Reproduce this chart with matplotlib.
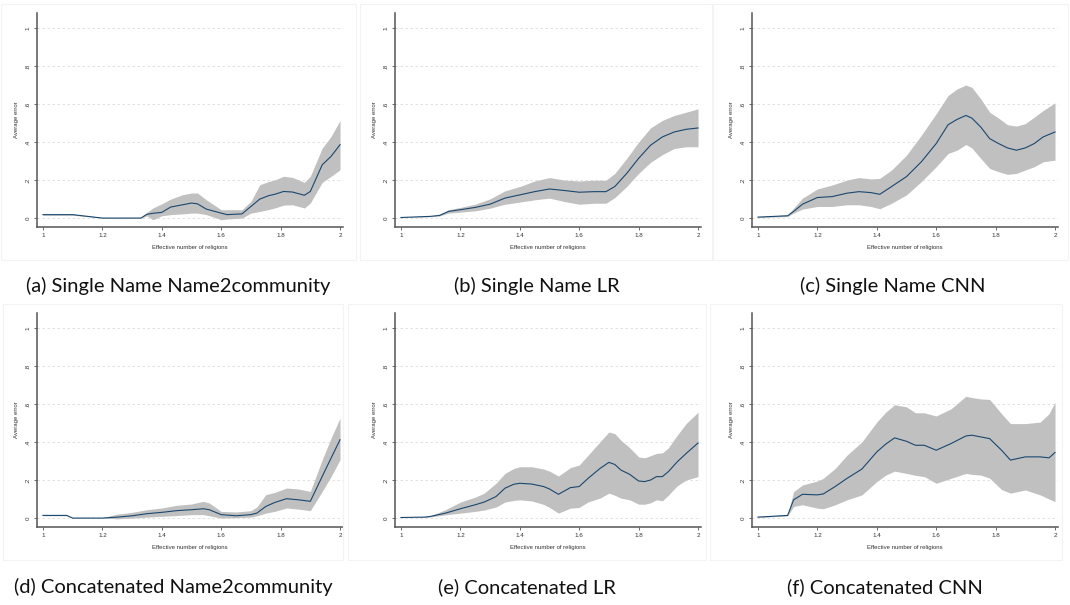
import matplotlib
matplotlib.use("Agg")
import matplotlib.pyplot as plt
from matplotlib.patches import Rectangle

# ---- data (x, fitted line, lower / upper band) ----
xa = [1.0, 1.1, 1.2, 1.33, 1.35, 1.37, 1.4, 1.43, 1.47, 1.5, 1.52, 1.55, 1.6, 1.62, 1.67,
      1.7, 1.73, 1.76, 1.78, 1.81, 1.84, 1.88, 1.9, 1.94, 1.97, 2.0]
mid_a = [.018, .018, 0, 0, .02, .025, .03, .058, .07, .079, .075, .047, .026, .018, .022,
         .061, .1, .118, .125, .14, .137, .12, .14, .28, .325, .386]
hi_a = [.021, .021, .003, .003, .03, .053, .075, .1, .123, .132, .132, .096, .044, .044, .044,
        .088, .175, .193, .2, .22, .214, .188, .22, .368, .43, .514]
lo_a = [.015, .015, 0, 0, .012, -.009, .012, .018, .022, .026, .026, .018, -.009, -.005, 0,
        .026, .035, .045, .053, .068, .07, .053, .079, .188, .22, .254]

xb = [1.0, 1.1, 1.13, 1.16, 1.2, 1.25, 1.3, 1.35, 1.4, 1.45, 1.5, 1.55, 1.6, 1.65, 1.69,
      1.72, 1.76, 1.8, 1.84, 1.88, 1.92, 1.96, 2.0]
mid_b = [.003, .009, .014, .035, .044, .056, .073, .105, .122, .139, .153, .145, .136, .139, .139,
         .166, .235, .314, .383, .427, .453, .467, .474]
hi_b = [.004, .011, .018, .044, .056, .073, .101, .143, .166, .195, .213, .2, .195, .199, .199,
        .235, .314, .4, .474, .514, .54, .557, .575]
lo_b = [.002, .007, .011, .026, .031, .038, .052, .073, .084, .096, .105, .087, .073, .078, .078,
        .108, .166, .235, .293, .334, .366, .375, .375]

xc = [1.0, 1.1, 1.12, 1.15, 1.2, 1.25, 1.3, 1.34, 1.38, 1.41, 1.45, 1.5, 1.55, 1.6, 1.64,
      1.67, 1.7, 1.72, 1.75, 1.78, 1.81, 1.84, 1.87, 1.9, 1.93, 1.96, 2.0]
mid_c = [.005, .012, .035, .073, .108, .113, .131, .139, .134, .125, .166, .218, .296, .392, .491,
         .519, .54, .526, .479, .418, .392, .369, .357, .369, .392, .427, .453]
hi_c = [.007, .017, .052, .105, .153, .174, .2, .213, .206, .209, .253, .331, .436, .549, .645,
        .679, .7, .688, .627, .557, .526, .491, .484, .497, .531, .566, .606]
lo_c = [.003, .008, .026, .047, .061, .061, .07, .07, .061, .049, .078, .122, .192, .27, .34,
        .357, .387, .369, .314, .261, .244, .23, .235, .253, .27, .296, .305]

xd = [1.0, 1.08, 1.1, 1.2, 1.25, 1.3, 1.35, 1.4, 1.45, 1.5, 1.54, 1.56, 1.6, 1.65, 1.7,
      1.72, 1.75, 1.78, 1.82, 1.86, 1.9, 1.94, 1.97, 2.0]
mid_d = [.014, .014, 0, 0, .005, .012, .023, .03, .039, .044, .049, .044, .018, .012, .018,
         .026, .061, .082, .102, .096, .088, .219, .316, .412]
hi_d = [.016, .016, .002, .002, .021, .03, .044, .053, .067, .074, .088, .079, .035, .032, .039,
        .058, .123, .135, .158, .153, .14, .307, .421, .526]
lo_d = [.012, .012, 0, 0, -.004, 0, .005, .009, .013, .018, .018, .012, 0, .002, .005,
        .012, .026, .035, .053, .047, .039, .14, .219, .307]

xe = [1.0, 1.08, 1.1, 1.15, 1.2, 1.25, 1.28, 1.32, 1.35, 1.38, 1.4, 1.44, 1.48, 1.5, 1.53, 1.57,
      1.6, 1.63, 1.67, 1.7, 1.72, 1.74, 1.77, 1.8, 1.82, 1.84, 1.86, 1.88, 1.9, 1.93, 1.96, 2.0]
mid_e = [.003, .005, .009, .026, .049, .07, .084, .113, .157, .178, .183, .179, .166, .153, .125, .16,
         .166, .209, .261, .293, .282, .253, .23, .195, .192, .2, .218, .218, .244, .296, .34, .395]
hi_e = [.004, .007, .013, .044, .084, .11, .131, .183, .235, .261, .27, .27, .258, .247, .221, .265,
        .279, .331, .401, .453, .444, .41, .37, .322, .317, .328, .34, .343, .369, .436, .497, .557]
lo_e = [.002, .003, .006, .017, .026, .035, .042, .058, .084, .093, .096, .09, .072, .056, .026, .052,
        .056, .085, .105, .131, .12, .105, .096, .073, .073, .08, .096, .091, .12, .17, .2, .218]

xf = [1.0, 1.1, 1.12, 1.15, 1.2, 1.22, 1.26, 1.3, 1.35, 1.4, 1.43, 1.46, 1.5, 1.53, 1.56,
      1.6, 1.65, 1.7, 1.72, 1.75, 1.78, 1.82, 1.85, 1.9, 1.95, 1.98, 2.0]
mid_f = [.005, .014, .096, .125, .122, .127, .166, .209, .258, .348, .389, .422, .404, .383, .383,
         .357, .392, .432, .436, .427, .418, .357, .305, .322, .322, .317, .345]
hi_f = [.007, .017, .139, .174, .195, .209, .261, .331, .401, .505, .557, .596, .585, .554, .554,
        .537, .575, .641, .634, .627, .624, .549, .497, .497, .505, .549, .61]
lo_f = [.003, .011, .061, .07, .052, .049, .07, .096, .122, .192, .226, .247, .235, .225, .218,
        .183, .209, .235, .23, .226, .21, .15, .131, .148, .122, .1, .087]

captions = ["(a) Single Name Name2community", "(b) Single Name LR", "(c) Single Name CNN",
            "(d) Concatenated Name2community", "(e) Concatenated LR", "(f) Concatenated CNN"]

xticks = [1, 1.2, 1.4, 1.6, 1.8, 2]
xtick_labels = ["1", "1.2", "1.4", "1.6", "1.8", "2"]
yticks = [0, .2, .4, .6, .8, 1]
ytick_labels = ["0", ".2", ".4", ".6", ".8", "1"]

panels = [(xa, mid_a, lo_a, hi_a), (xb, mid_b, lo_b, hi_b), (xc, mid_c, lo_c, hi_c),
          (xd, mid_d, lo_d, hi_d), (xe, mid_e, lo_e, hi_e), (xf, mid_f, lo_f, hi_f)]

W, H = 1070, 605
fig = plt.figure(figsize=(W / 100, H / 100), dpi=100)
fig.patch.set_facecolor("white")

# pixel layout of each panel
ax_left = [37, 395, 752]
ax_width = 306
row_bottom = [227, 527]
ax_height = 214
cap_x = [[178, 537, 893], [173, 527, 885]]
cap_y = [286, 587]
boxes = [[(1, 4, 355, 256), (360, 4, 352, 256), (713, 4, 355, 256)],
         [(3, 304, 340, 256), (348, 304, 358, 256), (710, 304, 352, 256)]]

for i, (x, mid, lo, hi) in enumerate(panels):
    r, c = divmod(i, 3)
    bx, by, bw, bh = boxes[r][c]
    fig.patches.append(Rectangle((bx / W, 1 - (by + bh) / H), bw / W, bh / H,
                                 transform=fig.transFigure, fill=False,
                                 edgecolor="#f1f3f5", lw=0.8, zorder=0))

    ax = fig.add_axes([ax_left[c] / W, 1 - row_bottom[r] / H, ax_width / W, ax_height / H])
    ax.fill_between(x, lo, hi, color="#c0c0c0", lw=0, zorder=2)
    ax.plot(x, mid, color="#1a476f", lw=0.8, zorder=3)

    ax.set_xlim(0.98, 2.01)
    ax.set_ylim(-0.047, 1.079)
    ax.set_xticks(xticks)
    ax.set_xticklabels(xtick_labels)
    ax.set_yticks(yticks)
    ax.set_yticklabels(ytick_labels, rotation=90, va="center")
    for y in yticks:
        ax.axhline(y, color="#dcdcdc", lw=0.6, ls=(0, (3, 3)), zorder=1)

    for s in ["top", "right"]:
        ax.spines[s].set_visible(False)
    for s in ["left", "bottom"]:
        ax.spines[s].set_color("#555555")
        ax.spines[s].set_linewidth(1.1)
    ax.tick_params(axis="both", length=2.5, width=0.6, color="#555555",
                   labelsize=4.5, labelcolor="#333333", pad=2)
    for lab in ax.get_xticklabels() + ax.get_yticklabels():
        lab.set_fontfamily("Liberation Sans")

    ax.set_xlabel("Effective number of religions", fontsize=4.3, family="Liberation Sans",
                  color="#333333", labelpad=5)
    ax.set_ylabel("Average error", fontsize=4.3, family="Liberation Sans",
                  color="#333333", labelpad=5)

    fig.text(cap_x[r][c] / W, 1 - cap_y[r] / H, captions[i], ha="center", va="center",
             fontsize=14.5, family="Lato", color="#111111")

fig.savefig("out.png", dpi=100, facecolor="white")
